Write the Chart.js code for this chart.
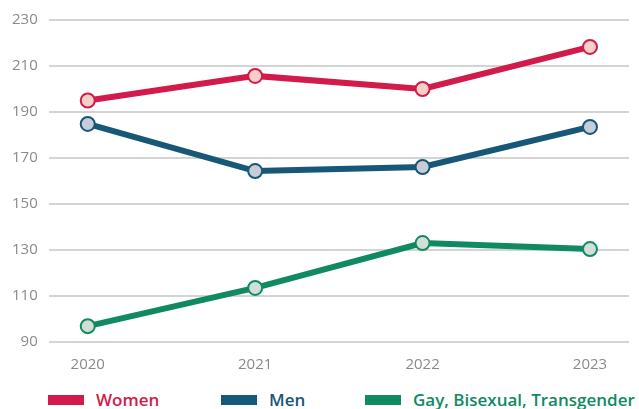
<!DOCTYPE html>
<html>
<head>
<meta charset="utf-8">
<script src="https://cdn.jsdelivr.net/npm/chart.js@4"></script>
<style>
  html, body { margin: 0; padding: 0; background: #fff; }
  #wrap { position: relative; width: 639px; height: 380px; }
  #legend { position: relative; width: 639px; height: 29px; font-family: 'Open Sans', sans-serif; font-size: 17px; font-weight: 600; }
  .item { position: absolute; top: 10px; display: flex; align-items: center; line-height: 20px; white-space: nowrap; }
  .box { width: 36px; height: 10px; margin-right: 12px; }
</style>
</head>
<body>
<div id="wrap"><canvas id="trendChart"></canvas></div>
<div id="legend"></div>
<script>
const years = [2020, 2021, 2022, 2023];
const women = [195, 205.7, 200, 218.3];
const men = [184.8, 164.3, 166.1, 183.5];
const gbt = [96.9, 113.5, 133, 130.4];
const yTicks = [90, 110, 130, 150, 170, 190, 210, 230];

const toPoints = (vals) => vals.map((v, i) => ({ x: years[i], y: v }));

const makeSet = (label, vals, color, fill) => ({
  label: label,
  data: toPoints(vals),
  borderColor: color,
  backgroundColor: color,
  borderWidth: 6,
  pointRadius: 7,
  pointBorderWidth: 2,
  pointBackgroundColor: fill,
  pointBorderColor: color,
  tension: 0
});

const chart = new Chart(document.getElementById('trendChart').getContext('2d'), {
  type: 'line',
  data: {
    datasets: [
      makeSet('Women', women, '#d21b4a', '#f4d0c9'),
      makeSet('Men', men, '#175778', '#c8ccd8'),
      makeSet('Gay, Bisexual, Transgender', gbt, '#0f8a62', '#d2dfd6')
    ]
  },
  options: {
    responsive: true,
    maintainAspectRatio: false,
    animation: false,
    layout: { padding: { left: 1, right: 10, top: 13, bottom: 0 } },
    scales: {
      x: {
        type: 'linear',
        min: 2019.767,
        max: 2023.233,
        afterBuildTicks: (axis) => { axis.ticks = years.map(y => ({ value: y })); },
        grid: { display: false },
        border: { display: false },
        ticks: {
          color: '#8a8a8a',
          font: { family: 'Open Sans', size: 15 },
          padding: 6,
          callback: (v) => String(v)
        }
      },
      y: {
        min: 90,
        max: 230,
        afterBuildTicks: (axis) => { axis.ticks = yTicks.map(v => ({ value: v })); },
        grid: { color: '#d4d4d4', lineWidth: 2, drawTicks: false },
        border: { display: false },
        ticks: {
          color: '#8a8a8a',
          font: { family: 'Open Sans', size: 15 },
          padding: 11
        }
      }
    },
    plugins: {
      tooltip: { enabled: false },
      legend: { display: false }
    }
  }
});

// legend as html, colours taken from the datasets
const legendLeft = [48, 221, 365];
const legend = document.getElementById('legend');
chart.data.datasets.forEach((ds, i) => {
  const item = document.createElement('div');
  item.className = 'item';
  item.style.left = legendLeft[i] + 'px';
  item.style.color = ds.borderColor;
  item.innerHTML = '<span class="box" style="background:' + ds.borderColor + '"></span><span>' + ds.label + '</span>';
  legend.appendChild(item);
});
</script>
</body>
</html>
